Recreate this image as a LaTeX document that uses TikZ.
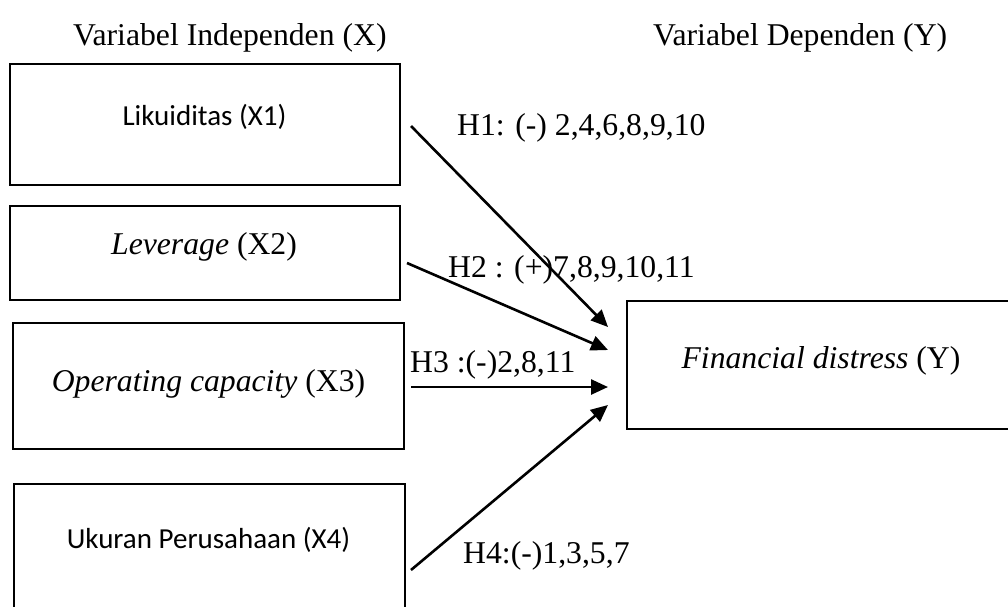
\documentclass[tikz,border=0pt]{standalone}
\usepackage{fontspec}
\setmainfont{Liberation Serif}
\newfontfamily\calibri{Carlito}
\usetikzlibrary{arrows.meta}
\begin{document}
\begin{tikzpicture}[x=1pt,y=-1pt,
  box/.style={draw,line width=2.9pt,inner sep=0pt},
  txt/.style={anchor=base,inner sep=0pt,font=\fontsize{31.7}{38}\selectfont},
  sanstxt/.style={anchor=base,inner sep=0pt,font=\calibri\fontsize{29}{35}\selectfont},
  lbl/.style={anchor=base west,inner sep=0pt,font=\fontsize{31.7}{38}\selectfont},
  arr/.style={line width=2.6pt,-{Triangle[length=17pt,width=15pt]}}
]
\useasboundingbox (0,0) rectangle (1008,606);
% headers
\node[lbl] (hx) at (73,45) {Variabel Independen (X)};
\node[lbl] (hy) at (653,45) {Variabel Dependen (Y)};
% boxes
\node[box,minimum width=390pt,minimum height=121pt] (b1) at (205,124.5) {};
\node[box,minimum width=390pt,minimum height=94pt] (b2) at (205,253) {};
\node[box,minimum width=391pt,minimum height=126pt] (b3) at (208.5,386) {};
\node[box,minimum width=391pt,minimum height=128pt] (b4) at (209.5,548) {};
\node[box,minimum width=388pt,minimum height=128pt] (by) at (821,365) {};
% box texts
\node[sanstxt] (t1) at (204.5,125) {Likuiditas (X1)};
\node[txt] (t2) at (204,254) {\textit{Leverage} (X2)};
\node[txt] (t3) at (208.5,391) {\textit{Operating capacity} (X3)};
\node[sanstxt] (t4) at (208.5,548) {Ukuran Perusahaan (X4)};
\node[txt] (ty) at (821,368) {\textit{Financial distress} (Y)};
% arrow ends
\coordinate (s1) at (411,126);
\coordinate (e1) at (608,327);
\coordinate (s2) at (407,263);
\coordinate (e2) at (608,350);
\coordinate (s3) at (411,387);
\coordinate (e3) at (608,387);
\coordinate (s4) at (411,570);
\coordinate (e4) at (608,405);
\draw[arr] (s1) -- (e1);
\draw[arr] (s2) -- (e2);
\draw[arr] (s3) -- (e3);
\draw[arr] (s4) -- (e4);
% hypothesis labels
\node[lbl] (h1) at (457,135) {H1: (-) 2,4,6,8,9,10};
\node[lbl] (h2) at (448,277) {H2 : (+)7,8,9,10,11};
\node[lbl] (h3) at (410,372) {H3 :(-)2,8,11};
\node[lbl] (h4) at (463,563) {H4:(-)1,3,5,7};
\end{tikzpicture}
\end{document}
